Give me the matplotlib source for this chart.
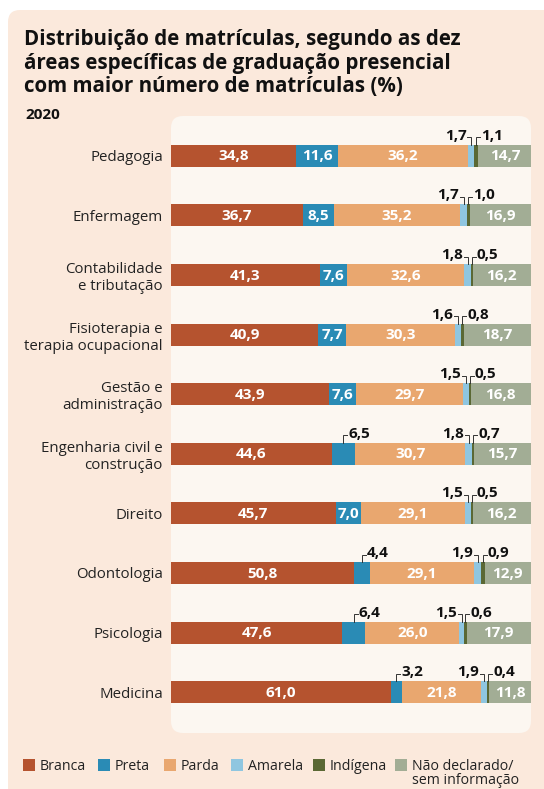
import matplotlib.pyplot as plt
from matplotlib.patches import FancyBboxPatch, Rectangle

plt.rcParams['font.family'] = ['Open Sans', 'DejaVu Sans']

categorias = ['Pedagogia', 'Enfermagem', 'Contabilidade\ne tributação',
              'Fisioterapia e\nterapia ocupacional', 'Gestão e\nadministração',
              'Engenharia civil e\nconstrução', 'Direito', 'Odontologia',
              'Psicologia', 'Medicina']
branca = [34.8, 36.7, 41.3, 40.9, 43.9, 44.6, 45.7, 50.8, 47.6, 61.0]
preta = [11.6, 8.5, 7.6, 7.7, 7.6, 6.5, 7.0, 4.4, 6.4, 3.2]
parda = [36.2, 35.2, 32.6, 30.3, 29.7, 30.7, 29.1, 29.1, 26.0, 21.8]
amarela = [1.7, 1.7, 1.8, 1.6, 1.5, 1.8, 1.5, 1.9, 1.5, 1.9]
indigena = [1.1, 1.0, 0.5, 0.8, 0.5, 0.7, 0.5, 0.9, 0.6, 0.4]
nao_decl = [14.7, 16.9, 16.2, 18.7, 16.8, 15.7, 16.2, 12.9, 17.9, 11.8]

series = [branca, preta, parda, amarela, indigena, nao_decl]
nomes = ['Branca', 'Preta', 'Parda', 'Amarela', 'Indígena', 'Não declarado/\nsem informação']
cores = ['#b5532f', '#2a8bb5', '#e9a76f', '#8fc6e0', '#5a6834', '#a2ad95']

W, H = 544, 789
fig = plt.figure(figsize=(W / 100, H / 100), dpi=100)
fig.patch.set_facecolor('white')

# fundo em pixels
bg = fig.add_axes([0, 0, 1, 1])
bg.set_xlim(0, W)
bg.set_ylim(H, 0)
bg.axis('off')
bg.add_patch(FancyBboxPatch((8 + 12, 10 + 12), W + 40, H + 40,
                            boxstyle='round,pad=12,rounding_size=12',
                            fc='#fbe9dc', ec='none'))
bg.add_patch(FancyBboxPatch((171 + 12, 116 + 12), 360 - 24, 617 - 24,
                            boxstyle='round,pad=12,rounding_size=12',
                            fc='#fcf7f1', ec='none'))

titulo = ('Distribuição de matrículas, segundo as dez\n'
          'áreas específicas de graduação presencial\n'
          'com maior número de matrículas (%)')
bg.text(24, 29, titulo, fontsize=14.8, fontweight='bold', va='top', ha='left',
        linespacing=1.16, color='#111111')
bg.text(25, 115, '2020', fontsize=11, fontweight='bold', va='center', ha='left',
        color='#111111')

# legenda
leg_x = [23, 98, 164, 231, 313, 395]
for i in range(len(nomes)):
    bg.add_patch(Rectangle((leg_x[i], 759), 12, 12, fc=cores[i], ec='none'))
    for k, linha in enumerate(nomes[i].split('\n')):
        bg.text(leg_x[i] + 17, 770 + 14.5 * k, linha, fontsize=10.2, va='baseline',
                ha='left', color='#222222')

# barras
ax = fig.add_axes([171 / W, 67 / H, 360 / W, 596 / H])
ax.patch.set_alpha(0)
n = len(categorias)
ys = list(range(n))
alt = 0.37
left = [0.0] * n
for s, vals in enumerate(series):
    ax.barh(ys, vals, left=left, height=alt, color=cores[s], edgecolor='none')
    for i in range(n):
        v = vals[i]
        c = left[i] + v / 2
        txt = f'{v:.1f}'.replace('.', ',')
        top = i - alt / 2
        if s in (0, 2, 5) or (s == 1 and v >= 7):
            ax.text(c, i + 0.01, txt, color='white', fontsize=11, fontweight='bold',
                    ha='center', va='center')
        else:
            yb = top - 0.125
            dx = 1.1
            if s == 3:
                ax.plot([c, c, c - dx], [top, yb, yb], color='#333333', lw=0.7,
                        clip_on=False, solid_joinstyle='miter')
                ax.text(c - dx - 0.3, top - 0.085, txt, fontsize=11, fontweight='bold',
                        ha='right', va='baseline', color='#111111')
            else:
                ax.plot([c, c, c + dx], [top, yb, yb], color='#333333', lw=0.7,
                        clip_on=False, solid_joinstyle='miter')
                ax.text(c + dx + 0.3, top - 0.085, txt, fontsize=11, fontweight='bold',
                        ha='left', va='baseline', color='#111111')
        left[i] += v

ax.set_xlim(0, 100)
ax.set_ylim(n - 0.5, -0.5)
ax.set_yticks(ys)
ax.set_yticklabels(categorias, fontsize=10.8, color='#222222', linespacing=1.2)
ax.tick_params(axis='y', length=0, pad=5.8)
ax.set_xticks([])
for sp in ax.spines.values():
    sp.set_visible(False)

fig.savefig('out.png', dpi=100)
